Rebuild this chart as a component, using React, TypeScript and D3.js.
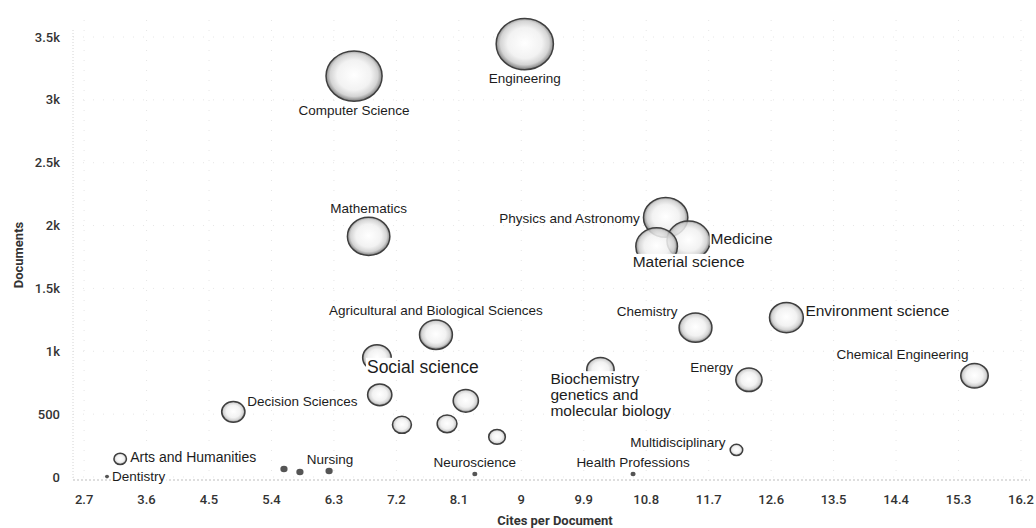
import React, { useEffect, useRef } from 'react';
import * as d3 from 'd3';

// ---- data ----
const labels = [
  'Engineering', 'Computer Science', 'Mathematics', 'Physics and Astronomy', 'Medicine',
  'Material science', 'Agricultural and Biological Sciences', 'Social science', 'Chemistry',
  'Environment science', 'Chemical Engineering', 'Energy',
  'Biochemistry|genetics and|molecular biology', 'Decision Sciences',
  '', '', '', '', '',
  'Multidisciplinary', 'Arts and Humanities', '', '', 'Nursing', 'Neuroscience',
  'Health Professions', 'Dentistry',
];
const citesPerDocument = [
  9.05, 6.59, 6.8, 11.08, 11.41, 10.95, 7.77, 6.92, 11.51, 12.82, 15.53, 12.28, 10.14, 4.85,
  6.96, 8.2, 7.28, 7.93, 8.65, 12.1, 3.22, 5.58, 5.81, 6.23, 8.33, 10.61, 3.03,
];
const documents = [
  3444, 3189, 1914, 2065, 1882, 1834, 1132, 949, 1188, 1268, 805, 773, 853, 518,
  654, 606, 415, 423, 319, 215, 144, 64, 40, 48, 24, 24, 3,
];
const bubbleSize = [
  100, 96, 55, 60, 57, 53, 33, 25, 33, 35, 23, 21, 23, 16.5,
  18, 19.5, 11, 12, 8.5, 4.8, 4.8, 1.6, 1.6, 1.6, 0.8, 0.8, 0.5,
];
const xTicks = [2.7, 3.6, 4.5, 5.4, 6.3, 7.2, 8.1, 9, 9.9, 10.8, 11.7, 12.6, 13.5, 14.4, 15.3, 16.2];
const xTickLabels = ['2.7', '3.6', '4.5', '5.4', '6.3', '7.2', '8.1', '9', '9.9', '10.8', '11.7', '12.6', '13.5', '14.4', '15.3', '16.2'];
const yTicks = [0, 500, 1000, 1500, 2000, 2500, 3000, 3500];
const yTickLabels = ['0', '500', '1k', '1.5k', '2k', '2.5k', '3k', '3.5k'];

// ---- label layout (style, not data): anchor, dx, dy, font size ----
const labelLayout: [string, number, number, number][] = [
  ['middle', 0, 34, 13.5], ['middle', 0, 34, 13.5], ['middle', 0, -28, 13.5], ['end', -26, 1, 13.5],
  ['start', 22, -2, 15.5], ['start', -24, 15, 15.5], ['middle', 0, -24, 13.5], ['start', -10, 9, 17.5],
  ['end', -18, -16, 13.5], ['start', 19, -7, 15.5], ['end', -6, -22, 13.5], ['end', -16, -13, 13.5],
  ['start', -50, 9, 15.5], ['start', 14, -11, 13.5],
  ['start', 0, 0, 13], ['start', 0, 0, 13], ['start', 0, 0, 13], ['start', 0, 0, 13], ['start', 0, 0, 13],
  ['end', -11, -8, 13.5], ['start', 10, -2, 14], ['start', 0, 0, 13], ['start', 0, 0, 13],
  ['middle', 1, -12, 13.5], ['middle', 0, -12, 13.5], ['middle', 0, -12, 13.5], ['start', 5, 0, 13.5],
];

export default function App() {
  const ref = useRef<SVGSVGElement>(null);
  useEffect(() => {
    const svg = d3.select(ref.current);
    svg.selectAll('*').remove();
    const x = d3.scaleLinear().domain([2.54, 16.33]).range([73, 1030]);
    const y = d3.scaleLinear().domain([-24, 3500]).range([480, 37]);
    const r = d3.scaleSqrt().domain([0, 100]).range([0, 27]);
    const font = 'Roboto, "Liberation Sans", Arial, sans-serif';
    const lfont = '"Liberation Sans", Arial, sans-serif';

    const defs = svg.append('defs');
    const g1 = defs.append('radialGradient').attr('id', 'bub').attr('cx', '50%').attr('cy', '48%').attr('r', '50%');
    [[0, '#ffffff'], [0.6, '#f0f0f0'], [0.85, '#cdcdcd'], [1, '#7a7a7a']].forEach(([o, c]) =>
      g1.append('stop').attr('offset', o as number).attr('stop-color', c as string));

    // grid
    const grid = svg.append('g');
    yTicks.forEach((t) => {
      grid.append('line').attr('x1', 73).attr('x2', 1030).attr('y1', y(t)).attr('y2', y(t))
        .attr('stroke', '#e6e6e6').attr('stroke-dasharray', '1,9');
    });
    xTicks.forEach((t) => {
      grid.append('line').attr('x1', x(t)).attr('x2', x(t)).attr('y1', 20).attr('y2', 480)
        .attr('stroke', '#e6e6e6').attr('stroke-dasharray', '1,9');
    });
    svg.append('line').attr('x1', 73).attr('x2', 1030).attr('y1', 480).attr('y2', 480)
      .attr('stroke', '#bdbdbd').attr('stroke-dasharray', '2,2');
    svg.append('line').attr('x1', 73).attr('x2', 73).attr('y1', 30).attr('y2', 480)
      .attr('stroke', '#d4d4d4').attr('stroke-dasharray', '1,2');

    // ticks
    svg.append('g').selectAll('text').data(yTicks).join('text')
      .attr('x', 60).attr('y', (d) => y(d)).attr('dy', '0.35em').attr('text-anchor', 'end')
      .attr('font-family', font).attr('font-size', 13).attr('font-weight', 500).attr('fill', '#333')
      .text((d, i) => yTickLabels[i]);
    svg.append('g').selectAll('text').data(xTicks).join('text')
      .attr('x', (d) => x(d)).attr('y', 499).attr('dy', '0.35em').attr('text-anchor', 'middle')
      .attr('font-family', font).attr('font-size', 13).attr('font-weight', 500).attr('fill', '#333')
      .text((d, i) => xTickLabels[i]);

    svg.append('text').attr('transform', 'translate(18,255) rotate(-90)').attr('text-anchor', 'middle')
      .attr('dy', '0.35em').attr('font-family', font).attr('font-size', 13).attr('font-weight', 700)
      .attr('fill', '#333').text('Documents');
    svg.append('text').attr('x', 555).attr('y', 520).attr('text-anchor', 'middle').attr('dy', '0.35em')
      .attr('font-family', font).attr('font-size', 13).attr('font-weight', 700)
      .attr('fill', '#333').text('Cites per Document');

    // bubbles
    const bg = svg.append('g');
    citesPerDocument.forEach((cx, i) => {
      const rr = r(bubbleSize[i]);
      const e = bg.append('ellipse').attr('cx', x(cx)).attr('cy', y(documents[i]))
        .attr('rx', rr * 1.06).attr('ry', rr * 0.95);
      if (rr < 4.5) {
        e.attr('fill', '#555');
      } else {
        e.attr('fill', 'url(#bub)').attr('fill-opacity', 0.85).attr('stroke', '#3f3f3f').attr('stroke-width', 1.5);
      }
    });

    // labels
    const lg = svg.append('g');
    labels.forEach((lab, i) => {
      if (!lab) return;
      const [anchor, dx, dy, fs] = labelLayout[i];
      const px = x(citesPerDocument[i]) + dx;
      const py = y(documents[i]) + dy;
      const grp = lg.append('g');
      const rect = grp.append('rect').attr('fill', '#fff');
      const t = grp.append('text').attr('x', px).attr('y', py).attr('text-anchor', anchor)
        .attr('font-family', lfont).attr('font-size', fs).attr('fill', '#1c1c1c');
      lab.split('|').forEach((line, k) => {
        t.append('tspan').attr('x', px).attr('y', py + k * 16).attr('dy', '0.35em').text(line);
      });
      const bb = (t.node() as SVGTextElement).getBBox();
      rect.attr('x', bb.x - 1).attr('y', bb.y + 1).attr('width', bb.width + 2).attr('height', bb.height - 2);
    });
  }, []);
  return (
    <svg ref={ref} width={1036} height={528}
      style={{ position: 'absolute', left: 0, top: 0, background: '#fff' }} />
  );
}
